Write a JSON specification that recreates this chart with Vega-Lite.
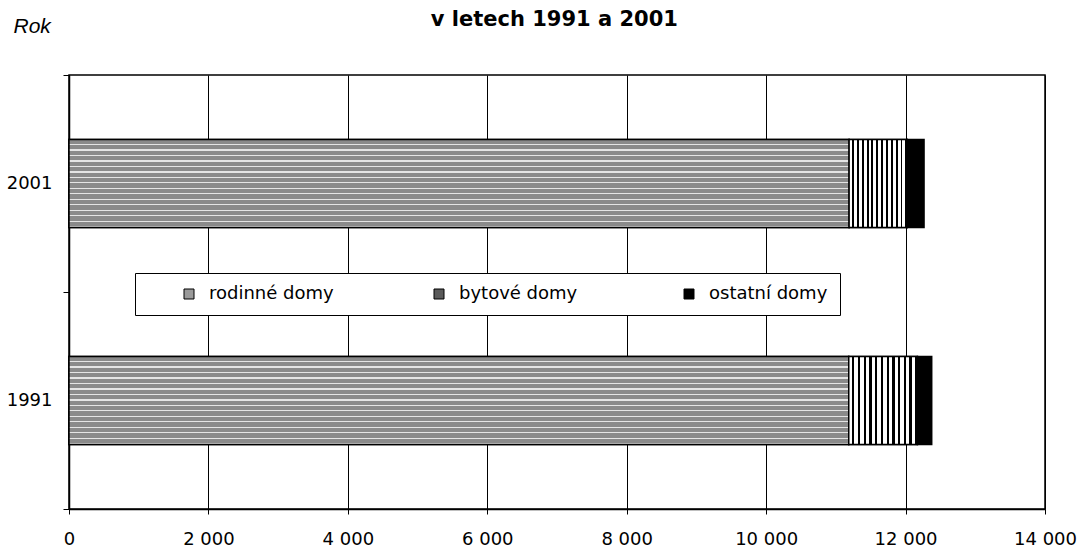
{
  "$schema": "https://vega.github.io/schema/vega-lite/v6.json",
  "width": 976,
  "height": 434,
  "autosize": {"type": "none"},
  "padding": {"left": 69, "top": 75, "right": 37, "bottom": 41},
  "background": "white",
  "title": {
    "text": "v letech 1991 a 2001",
    "font": "DejaVu Sans",
    "fontSize": 21,
    "fontWeight": "bold",
    "color": "black",
    "anchor": "middle",
    "frame": "bounds",
    "baseline": "alphabetic",
    "offset": -32,
    "dx": 13
  },
  "data": {
    "values": [
      {"rok": "2001", "druh": "rodinné domy", "poradi": 1, "pocet": 11190},
      {"rok": "2001", "druh": "bytové domy", "poradi": 2, "pocet": 835},
      {"rok": "2001", "druh": "ostatní domy", "poradi": 3, "pocet": 240},
      {"rok": "1991", "druh": "rodinné domy", "poradi": 1, "pocet": 11185},
      {"rok": "1991", "druh": "bytové domy", "poradi": 2, "pocet": 985},
      {"rok": "1991", "druh": "ostatní domy", "poradi": 3, "pocet": 205}
    ]
  },
  "transform": [
    {"stack": "pocet", "groupby": ["rok"], "sort": [{"field": "poradi", "order": "ascending"}], "as": ["x0", "x1"]}
  ],
  "encoding": {
    "y": {
      "field": "rok",
      "type": "nominal",
      "sort": ["2001", "1991"],
      "scale": {"paddingInner": 0, "paddingOuter": 0},
      "axis": {
        "title": "Rok",
        "titleAngle": 0,
        "titleAlign": "left",
        "titleBaseline": "alphabetic",
        "titleX": -56,
        "titleY": -43,
        "titleFont": "Liberation Sans",
        "titleFontSize": 21,
        "titleFontStyle": "italic",
        "titleFontWeight": "normal",
        "titleColor": "black",
        "tickBand": "extent",
        "tickSize": 6,
        "tickColor": "black",
        "tickWidth": 1,
        "domainColor": "black",
        "domainWidth": 1.5,
        "labelFont": "DejaVu Sans",
        "labelFontSize": 18,
        "labelColor": "black",
        "labelPadding": 11,
        "grid": false
      }
    },
    "x": {
      "field": "x0",
      "type": "quantitative",
      "scale": {"domain": [0, 14000], "nice": false},
      "axis": {
        "title": null,
        "values": [0, 2000, 4000, 6000, 8000, 10000, 12000, 14000],
        "grid": true,
        "gridColor": "black",
        "gridWidth": 1,
        "gridOpacity": 1,
        "tickColor": "black",
        "tickSize": 5,
        "domainColor": "black",
        "domainWidth": 1.5,
        "labelFont": "DejaVu Sans",
        "labelFontSize": 18,
        "labelColor": "black",
        "labelPadding": 16,
        "labelFlush": false,
        "labelOverlap": false,
        "labelExpr": "replace(format(datum.value, ',d'), ',', ' ')"
      }
    },
    "x2": {"field": "x1"}
  },
  "layer": [
    {
      "mark": {"type": "bar", "height": {"band": 0.405}, "stroke": "black", "strokeWidth": 1.5},
      "encoding": {
        "color": {
          "field": "druh",
          "type": "nominal",
          "scale": {
            "domain": ["rodinné domy", "bytové domy", "ostatní domy"],
            "range": ["#9a9a9a", "#5a5a5a", "#000000"]
          },
          "legend": {
            "orient": "none",
            "legendX": 66,
            "legendY": 198,
            "direction": "horizontal",
            "columns": 3,
            "gridAlign": "all",
            "columnPadding": 96,
            "title": " ",
            "titleOrient": "left",
            "titlePadding": 33,
            "titleFontSize": 18,
            "padding": 12,
            "strokeColor": "black",
            "fillColor": "white",
            "symbolType": "square",
            "symbolSize": 100,
            "symbolStrokeColor": "black",
            "symbolStrokeWidth": 1,
            "symbolOpacity": 1,
            "labelFont": "DejaVu Sans",
            "labelFontSize": 18,
            "labelColor": "black",
            "labelOffset": 11,
            "labelLimit": 300
          }
        }
      }
    },
    {
      "transform": [{"filter": "datum.druh === 'rodinné domy'"}],
      "mark": {
        "type": "bar",
        "height": {"band": 0.405},
        "stroke": "black",
        "strokeWidth": 1.5,
        "fill": {
          "gradient": "linear",
          "x1": 0, "y1": 0, "x2": 0, "y2": 1,
          "stops": [
            {"offset": 0, "color": "#8a8a8a"}, {"offset": 0.05, "color": "#8a8a8a"}, {"offset": 0.05, "color": "#e4e4e4"}, {"offset": 0.0625, "color": "#e4e4e4"},
            {"offset": 0.0625, "color": "#8a8a8a"}, {"offset": 0.1125, "color": "#8a8a8a"}, {"offset": 0.1125, "color": "#e4e4e4"}, {"offset": 0.125, "color": "#e4e4e4"},
            {"offset": 0.125, "color": "#8a8a8a"}, {"offset": 0.175, "color": "#8a8a8a"}, {"offset": 0.175, "color": "#e4e4e4"}, {"offset": 0.1875, "color": "#e4e4e4"},
            {"offset": 0.1875, "color": "#8a8a8a"}, {"offset": 0.2375, "color": "#8a8a8a"}, {"offset": 0.2375, "color": "#e4e4e4"}, {"offset": 0.25, "color": "#e4e4e4"},
            {"offset": 0.25, "color": "#8a8a8a"}, {"offset": 0.3, "color": "#8a8a8a"}, {"offset": 0.3, "color": "#e4e4e4"}, {"offset": 0.3125, "color": "#e4e4e4"},
            {"offset": 0.3125, "color": "#8a8a8a"}, {"offset": 0.3625, "color": "#8a8a8a"}, {"offset": 0.3625, "color": "#e4e4e4"}, {"offset": 0.375, "color": "#e4e4e4"},
            {"offset": 0.375, "color": "#8a8a8a"}, {"offset": 0.425, "color": "#8a8a8a"}, {"offset": 0.425, "color": "#e4e4e4"}, {"offset": 0.4375, "color": "#e4e4e4"},
            {"offset": 0.4375, "color": "#8a8a8a"}, {"offset": 0.4875, "color": "#8a8a8a"}, {"offset": 0.4875, "color": "#e4e4e4"}, {"offset": 0.5, "color": "#e4e4e4"},
            {"offset": 0.5, "color": "#8a8a8a"}, {"offset": 0.55, "color": "#8a8a8a"}, {"offset": 0.55, "color": "#e4e4e4"}, {"offset": 0.5625, "color": "#e4e4e4"},
            {"offset": 0.5625, "color": "#8a8a8a"}, {"offset": 0.6125, "color": "#8a8a8a"}, {"offset": 0.6125, "color": "#e4e4e4"}, {"offset": 0.625, "color": "#e4e4e4"},
            {"offset": 0.625, "color": "#8a8a8a"}, {"offset": 0.675, "color": "#8a8a8a"}, {"offset": 0.675, "color": "#e4e4e4"}, {"offset": 0.6875, "color": "#e4e4e4"},
            {"offset": 0.6875, "color": "#8a8a8a"}, {"offset": 0.7375, "color": "#8a8a8a"}, {"offset": 0.7375, "color": "#e4e4e4"}, {"offset": 0.75, "color": "#e4e4e4"},
            {"offset": 0.75, "color": "#8a8a8a"}, {"offset": 0.8, "color": "#8a8a8a"}, {"offset": 0.8, "color": "#e4e4e4"}, {"offset": 0.8125, "color": "#e4e4e4"},
            {"offset": 0.8125, "color": "#8a8a8a"}, {"offset": 0.8625, "color": "#8a8a8a"}, {"offset": 0.8625, "color": "#e4e4e4"}, {"offset": 0.875, "color": "#e4e4e4"},
            {"offset": 0.875, "color": "#8a8a8a"}, {"offset": 0.925, "color": "#8a8a8a"}, {"offset": 0.925, "color": "#e4e4e4"}, {"offset": 0.9375, "color": "#e4e4e4"},
            {"offset": 0.9375, "color": "#8a8a8a"}, {"offset": 0.9875, "color": "#8a8a8a"}, {"offset": 0.9875, "color": "#e4e4e4"}, {"offset": 1, "color": "#e4e4e4"}
          ]
        }
      }
    },
    {
      "transform": [{"filter": "datum.druh === 'bytové domy'"}],
      "mark": {
        "type": "bar",
        "height": {"band": 0.405},
        "stroke": "black",
        "strokeWidth": 1.5,
        "fill": {
          "gradient": "linear",
          "x1": 0, "y1": 0, "x2": 1, "y2": 0,
          "stops": [
            {"offset": 0, "color": "#ffffff"}, {"offset": 0.05, "color": "#ffffff"}, {"offset": 0.05, "color": "#000000"}, {"offset": 0.08333, "color": "#000000"},
            {"offset": 0.08333, "color": "#ffffff"}, {"offset": 0.13333, "color": "#ffffff"}, {"offset": 0.13333, "color": "#000000"}, {"offset": 0.16667, "color": "#000000"},
            {"offset": 0.16667, "color": "#ffffff"}, {"offset": 0.21667, "color": "#ffffff"}, {"offset": 0.21667, "color": "#000000"}, {"offset": 0.25, "color": "#000000"},
            {"offset": 0.25, "color": "#ffffff"}, {"offset": 0.3, "color": "#ffffff"}, {"offset": 0.3, "color": "#000000"}, {"offset": 0.33333, "color": "#000000"},
            {"offset": 0.33333, "color": "#ffffff"}, {"offset": 0.38333, "color": "#ffffff"}, {"offset": 0.38333, "color": "#000000"}, {"offset": 0.41667, "color": "#000000"},
            {"offset": 0.41667, "color": "#ffffff"}, {"offset": 0.46667, "color": "#ffffff"}, {"offset": 0.46667, "color": "#000000"}, {"offset": 0.5, "color": "#000000"},
            {"offset": 0.5, "color": "#ffffff"}, {"offset": 0.55, "color": "#ffffff"}, {"offset": 0.55, "color": "#000000"}, {"offset": 0.58333, "color": "#000000"},
            {"offset": 0.58333, "color": "#ffffff"}, {"offset": 0.63333, "color": "#ffffff"}, {"offset": 0.63333, "color": "#000000"}, {"offset": 0.66667, "color": "#000000"},
            {"offset": 0.66667, "color": "#ffffff"}, {"offset": 0.71667, "color": "#ffffff"}, {"offset": 0.71667, "color": "#000000"}, {"offset": 0.75, "color": "#000000"},
            {"offset": 0.75, "color": "#ffffff"}, {"offset": 0.8, "color": "#ffffff"}, {"offset": 0.8, "color": "#000000"}, {"offset": 0.83333, "color": "#000000"},
            {"offset": 0.83333, "color": "#ffffff"}, {"offset": 0.88333, "color": "#ffffff"}, {"offset": 0.88333, "color": "#000000"}, {"offset": 0.91667, "color": "#000000"},
            {"offset": 0.91667, "color": "#ffffff"}, {"offset": 0.96667, "color": "#ffffff"}, {"offset": 0.96667, "color": "#000000"}, {"offset": 1, "color": "#000000"}
          ]
        }
      }
    }
  ],
  "config": {
    "view": {"stroke": "black", "strokeWidth": 1.5},
    "font": "DejaVu Sans"
  }
}
